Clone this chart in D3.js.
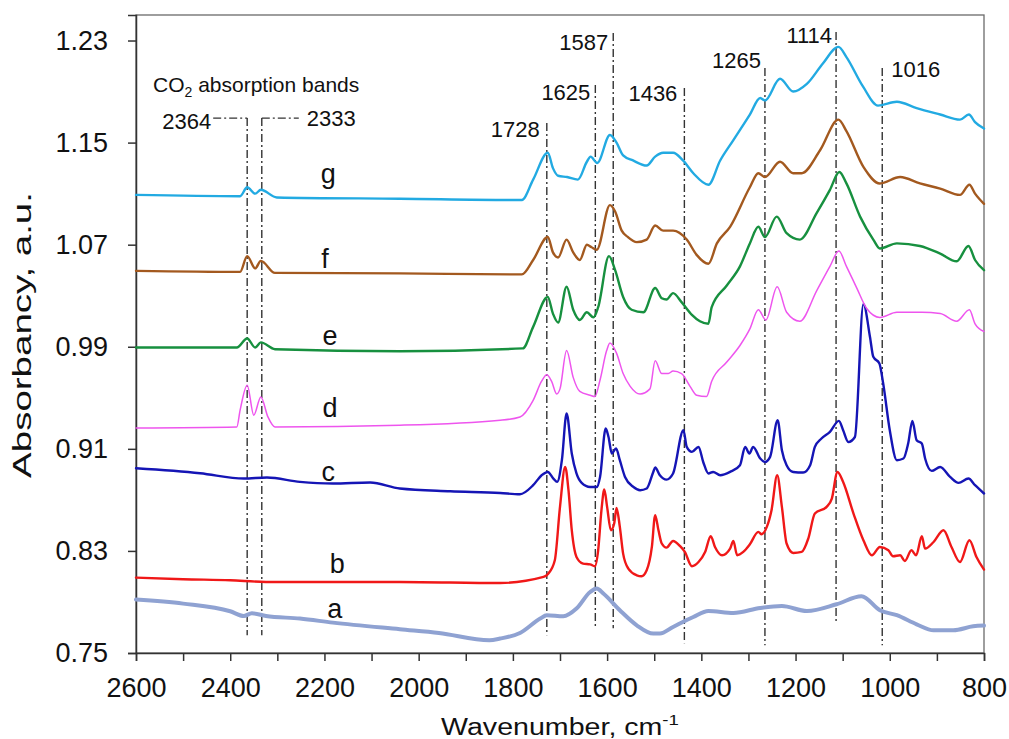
<!DOCTYPE html>
<html>
<head>
<meta charset="utf-8">
<script src="https://cdn.jsdelivr.net/npm/d3@7"></script>
<style>
  html, body { margin: 0; padding: 0; background: #ffffff; }
  svg { display: block; font-family: "Liberation Sans", Arial, sans-serif; }
</style>
</head>
<body>
<svg id="chart" width="1009" height="739"></svg>
<script>
// FTIR spectra a–g: wavenumber (cm-1) against absorbance (a.u.)
const spectrumA = [[2600,0.7919],[2500,0.7887],[2400,0.7827],[2371,0.7790],[2354,0.7811],[2324,0.7790],[2252,0.7770],[2182,0.7738],[2040,0.7686],[1957,0.7657],[1850,0.7600],[1827,0.7613],[1785,0.7657],[1742,0.7770],[1728,0.7796],[1693,0.7788],[1665,0.7848],[1636,0.7978],[1622,0.8005],[1608,0.7966],[1573,0.7835],[1537,0.7717],[1502,0.7652],[1488,0.7652],[1460,0.7704],[1417,0.7782],[1385,0.7829],[1332,0.7814],[1275,0.7853],[1229,0.7868],[1176,0.7829],[1113,0.7882],[1060,0.7945],[1021,0.7835],[985,0.7796],[943,0.7725],[907,0.7678],[865,0.7678],[823,0.7709],[800,0.7715]];

const spectrumB = [[2600,0.8091],[2500,0.8078],[2400,0.8070],[2324,0.8057],[2040,0.8057],[1827,0.8049],[1735,0.8096],[1725,0.8122],[1711,0.8227],[1700,0.8645],[1689,0.8958],[1682,0.8776],[1675,0.8462],[1665,0.8253],[1651,0.8201],[1636,0.8195],[1626,0.8180],[1619,0.8305],[1612,0.8619],[1606,0.8781],[1600,0.8645],[1592,0.8462],[1585,0.8515],[1580,0.8637],[1573,0.8488],[1566,0.8279],[1555,0.8162],[1537,0.8109],[1527,0.8101],[1516,0.8148],[1505,0.8331],[1498,0.8580],[1491,0.8462],[1484,0.8358],[1474,0.8326],[1460,0.8378],[1445,0.8337],[1435,0.8292],[1420,0.8180],[1406,0.8213],[1392,0.8292],[1380,0.8415],[1371,0.8331],[1356,0.8266],[1339,0.8318],[1332,0.8378],[1324,0.8266],[1311,0.8292],[1297,0.8352],[1279,0.8449],[1272,0.8431],[1261,0.8488],[1251,0.8619],[1239,0.8893],[1229,0.8645],[1219,0.8358],[1205,0.8284],[1187,0.8292],[1173,0.8397],[1159,0.8593],[1134,0.8645],[1123,0.8710],[1111,0.8919],[1099,0.8840],[1077,0.8593],[1056,0.8384],[1038,0.8266],[1021,0.8331],[1003,0.8305],[993,0.8258],[978,0.8266],[968,0.8221],[954,0.8305],[944,0.8266],[932,0.8415],[925,0.8318],[907,0.8370],[886,0.8462],[869,0.8331],[851,0.8213],[831,0.8384],[816,0.8253],[800,0.8154]];

const spectrumC = [[2600,0.8948],[2464,0.8909],[2371,0.8867],[2322,0.8875],[2252,0.8841],[2182,0.8828],[2103,0.8836],[2040,0.8789],[1933,0.8768],[1827,0.8754],[1785,0.8744],[1757,0.8815],[1739,0.8893],[1726,0.8919],[1714,0.8867],[1706,0.8841],[1696,0.9011],[1686,0.9377],[1675,0.9063],[1665,0.8907],[1654,0.8833],[1636,0.8801],[1622,0.8801],[1615,0.8880],[1603,0.9259],[1597,0.9193],[1590,0.9063],[1581,0.9103],[1573,0.9011],[1562,0.8880],[1544,0.8801],[1530,0.8776],[1516,0.8789],[1502,0.8919],[1498,0.8954],[1488,0.8893],[1474,0.8859],[1460,0.8907],[1438,0.9246],[1431,0.9115],[1420,0.9076],[1406,0.9115],[1396,0.8997],[1385,0.8907],[1375,0.8919],[1360,0.8893],[1339,0.8919],[1318,0.8972],[1307,0.9115],[1298,0.9063],[1290,0.9115],[1275,0.9024],[1265,0.8997],[1254,0.9037],[1238,0.9324],[1229,0.9089],[1219,0.8972],[1205,0.8919],[1184,0.8914],[1169,0.8972],[1159,0.9115],[1145,0.9181],[1127,0.9233],[1108,0.9319],[1099,0.9246],[1088,0.9154],[1074,0.9193],[1056,1.0234],[1042,0.9977],[1035,0.9821],[1022,0.9769],[1014,0.9612],[1000,0.9246],[985,0.9011],[971,0.9024],[961,0.9142],[952,0.9319],[943,0.9168],[932,0.9142],[925,0.9024],[911,0.8927],[893,0.8958],[872,0.8880],[854,0.8833],[833,0.8867],[819,0.8815],[800,0.8750]];

const spectrumD = [[2600,0.9264],[2386,0.9272],[2379,0.9403],[2364,0.9599],[2350,0.9364],[2335,0.9507],[2320,0.9350],[2305,0.9272],[2040,0.9285],[1827,0.9324],[1785,0.9350],[1757,0.9480],[1739,0.9630],[1728,0.9680],[1718,0.9630],[1707,0.9530],[1700,0.9570],[1686,0.9870],[1672,0.9660],[1658,0.9550],[1636,0.9520],[1626,0.9510],[1615,0.9640],[1601,0.9870],[1594,0.9930],[1580,0.9850],[1566,0.9690],[1551,0.9590],[1530,0.9530],[1509,0.9570],[1498,0.9790],[1484,0.9690],[1470,0.9690],[1460,0.9710],[1442,0.9690],[1424,0.9590],[1410,0.9520],[1389,0.9510],[1378,0.9630],[1346,0.9780],[1318,0.9910],[1297,1.0040],[1279,1.0190],[1263,1.0110],[1239,1.0370],[1219,1.0170],[1191,1.0100],[1155,1.0340],[1127,1.0530],[1108,1.0650],[1092,1.0530],[1070,1.0360],[1049,1.0200],[1021,1.0130],[985,1.0170],[932,1.0170],[893,1.0160],[858,1.0100],[831,1.0190],[819,1.0080],[800,1.0020]];

const spectrumE = [[2600,0.9894],[2386,0.9894],[2364,0.9965],[2347,0.9894],[2335,0.9934],[2305,0.9881],[2040,0.9865],[1779,0.9887],[1757,1.0056],[1726,1.0290],[1715,1.0160],[1704,1.0090],[1686,1.0370],[1672,1.0190],[1658,1.0110],[1643,1.0170],[1629,1.0130],[1619,1.0210],[1596,1.0610],[1583,1.0500],[1566,1.0290],[1548,1.0190],[1523,1.0170],[1498,1.0360],[1484,1.0280],[1474,1.0270],[1460,1.0320],[1442,1.0250],[1420,1.0150],[1403,1.0100],[1385,1.0080],[1378,1.0210],[1346,1.0380],[1318,1.0530],[1297,1.0710],[1279,1.0840],[1265,1.0760],[1240,1.0920],[1219,1.0790],[1191,1.0740],[1155,1.0950],[1127,1.1130],[1107,1.1270],[1092,1.1180],[1063,1.0920],[1035,1.0740],[1021,1.0670],[985,1.0710],[936,1.0690],[893,1.0630],[858,1.0570],[833,1.0690],[819,1.0580],[800,1.0500]];

const spectrumF = [[2600,1.0495],[2379,1.0487],[2364,1.0610],[2347,1.0514],[2335,1.0573],[2305,1.0479],[2040,1.0475],[1781,1.0467],[1757,1.0580],[1726,1.0760],[1715,1.0640],[1704,1.0600],[1686,1.0740],[1672,1.0640],[1658,1.0580],[1643,1.0700],[1633,1.0680],[1622,1.0660],[1594,1.1010],[1583,1.0960],[1569,1.0810],[1556,1.0760],[1537,1.0720],[1516,1.0740],[1498,1.0850],[1481,1.0810],[1460,1.0810],[1431,1.0740],[1410,1.0620],[1385,1.0550],[1367,1.0710],[1339,1.0840],[1297,1.1150],[1279,1.1260],[1265,1.1230],[1233,1.1350],[1205,1.1260],[1187,1.1260],[1148,1.1440],[1109,1.1680],[1092,1.1590],[1056,1.1310],[1021,1.1180],[978,1.1230],[936,1.1180],[893,1.1140],[851,1.1090],[831,1.1170],[819,1.1100],[800,1.1020]];

const spectrumG = [[2600,1.1090],[2379,1.1080],[2364,1.1150],[2347,1.1100],[2335,1.1130],[2301,1.1070],[2040,1.1060],[1781,1.1050],[1757,1.1210],[1726,1.1420],[1715,1.1300],[1704,1.1240],[1685,1.1230],[1662,1.1210],[1643,1.1350],[1635,1.1390],[1621,1.1340],[1594,1.1560],[1580,1.1500],[1566,1.1400],[1545,1.1360],[1516,1.1320],[1498,1.1390],[1481,1.1420],[1460,1.1420],[1439,1.1360],[1417,1.1260],[1385,1.1170],[1360,1.1360],[1332,1.1520],[1297,1.1720],[1275,1.1850],[1265,1.1830],[1233,1.2000],[1205,1.1900],[1176,1.1960],[1142,1.2120],[1109,1.2250],[1092,1.2170],[1057,1.1940],[1025,1.1790],[985,1.1820],[943,1.1770],[893,1.1720],[851,1.1680],[832,1.1720],[819,1.1660],[800,1.1610]];

// curve letters, with the point (wavenumber, absorbance) each one sits at
const seriesNames = ["a", "b", "c", "d", "e", "f", "g"];
const nameAnchors = [[2178,0.7772],[2173,0.8125],[2192,0.8846],[2188,0.9348],[2188,0.9912],[2199,1.0516],[2192,1.1182]];

// marked absorption bands (cm-1)
const co2Bands = [2364, 2333];
const sampleBands = [1728, 1625, 1587, 1436, 1265, 1114, 1016];

// axis ticks
const wavenumberTicks = d3.range(800, 2601, 100);
const wavenumberLabels = d3.range(800, 2601, 200);
const absorbanceTicks = [0.75, 0.83, 0.91, 0.99, 1.07, 1.15, 1.23];

// ---------------------------------------------------------------
const spectra = [spectrumA, spectrumB, spectrumC, spectrumD, spectrumE, spectrumF, spectrumG];
const colors = ["#8fa2d2", "#f01818", "#1515b5", "#ee55ee", "#17903f", "#a3591f", "#22aae2"];
const widths = [4, 2.4, 2.4, 1.5, 2.4, 2.4, 2.4];

const W = 1009, H = 739;
const margin = { top: 15, right: 25, bottom: 86, left: 136 };
const iw = W - margin.left - margin.right;
const ih = H - margin.top - margin.bottom;

const svg = d3.select("#chart");
const g = svg.append("g").attr("transform", `translate(${margin.left},${margin.top})`);

const x = d3.scaleLinear().domain([2600, 800]).range([0, iw]);
const y = d3.scaleLinear().domain([0.75, 1.25]).range([ih, 0]);

// frame
g.append("rect")
  .attr("x", 0).attr("y", 0).attr("width", iw).attr("height", ih)
  .attr("fill", "none").attr("stroke", "#6a6a6a").attr("stroke-width", 1.3);

// y axis
const yAxis = g.append("g")
  .call(d3.axisLeft(y).tickValues(absorbanceTicks).tickFormat(d3.format(".2f")).tickSize(8).tickPadding(20));
yAxis.select(".domain").attr("stroke", "#333").attr("stroke-width", 1.5);
yAxis.selectAll(".tick line").attr("stroke", "#333").attr("stroke-width", 1.5);
yAxis.selectAll(".tick text")
  .attr("font-size", 27).attr("fill", "#111").attr("font-family", "Liberation Sans, Arial, sans-serif");

// x axis
const xAxis = g.append("g").attr("transform", `translate(0,${ih})`)
  .call(d3.axisBottom(x).tickValues(wavenumberTicks)
    .tickFormat(d => wavenumberLabels.includes(d) ? d : "").tickSize(8).tickPadding(8));
xAxis.select(".domain").attr("stroke", "#333").attr("stroke-width", 1.5);
xAxis.selectAll(".tick line").attr("stroke", "#333").attr("stroke-width", 1.5);
xAxis.selectAll(".tick text")
  .attr("font-size", 27).attr("fill", "#111").attr("dy", 0).attr("y", 44)
  .attr("font-family", "Liberation Sans, Arial, sans-serif");

// band marker lines: extents in absorbance units
const bandLayout = {
  2364: { top: 1.1692, bottom: 0.7639 },
  2333: { top: 1.1692, bottom: 0.7639 },
  1728: { top: 1.1653, bottom: 0.7639, label: "end", dx: -7, base: 1.1542 },
  1625: { top: 1.1951, bottom: 0.7702, label: "end", dx: -5, base: 1.1832 },
  1587: { top: 1.2359, bottom: 0.7694, label: "end", dx: -5, base: 1.2224 },
  1436: { top: 1.1927, bottom: 0.7576, label: "end", dx: -7, base: 1.1824 },
  1265: { top: 1.2084, bottom: 0.7560, label: "end", dx: -4, base: 1.2088 },
  1114: { top: 1.2367, bottom: 0.7733, label: "end", dx: -4, base: 1.2284 },
  1016: { top: 1.2084, bottom: 0.7560, label: "start", dx: 9, base: 1.2013 }
};
const dash = "8,3,2,3";
const marks = g.append("g").attr("stroke", "#333").attr("stroke-width", 1.4)
  .attr("stroke-dasharray", dash).attr("fill", "none");

[...co2Bands, ...sampleBands].forEach(b => {
  const L = bandLayout[b];
  marks.append("line")
    .attr("x1", x(b)).attr("x2", x(b))
    .attr("y1", y(L.top)).attr("y2", y(L.bottom));
});

// CO2 connectors
marks.append("line").attr("x1", x(2364) - 34).attr("x2", x(2364))
  .attr("y1", y(1.1692)).attr("y2", y(1.1692));
marks.append("line").attr("x1", x(2333)).attr("x2", x(2333) + 37)
  .attr("y1", y(1.1692)).attr("y2", y(1.1692));

const labels = g.append("g").attr("fill", "#111").attr("font-size", 22);
labels.append("text").attr("x", x(2364) - 36).attr("y", y(1.1692) + 11)
  .attr("text-anchor", "end").text("2364");
labels.append("text").attr("x", x(2333) + 45).attr("y", y(1.1692) + 8)
  .attr("text-anchor", "start").text("2333");

sampleBands.forEach(b => {
  const L = bandLayout[b];
  labels.append("text")
    .attr("x", x(b) + L.dx).attr("y", y(L.base))
    .attr("text-anchor", L.label).text(b);
});

// CO2 caption
const co2 = labels.append("text").attr("x", 153 - margin.left).attr("y", 92 - margin.top).attr("font-size", 21);
co2.append("tspan").text("CO");
co2.append("tspan").attr("font-size", 14).attr("dy", 5).text("2");
co2.append("tspan").attr("dy", -5).text(" absorption bands");

// spectra
const line = d3.line().x(d => x(d[0])).y(d => y(d[1])).curve(d3.curveMonotoneX);
spectra.forEach((s, i) => {
  g.append("path").datum(s)
    .attr("fill", "none").attr("stroke", colors[i]).attr("stroke-width", widths[i])
    .attr("stroke-linejoin", "round").attr("stroke-linecap", "round")
    .attr("d", line);
});

// curve letters
g.append("g").attr("font-size", 27).attr("fill", "#111").attr("text-anchor", "middle")
  .selectAll("text").data(seriesNames).join("text")
  .attr("x", (d, i) => x(nameAnchors[i][0]))
  .attr("y", (d, i) => y(nameAnchors[i][1]))
  .text(d => d);

// axis titles
const xt = svg.append("text").attr("font-size", 23).attr("fill", "#111").attr("text-anchor", "middle");
xt.append("tspan").text("Wavenumber, cm");
xt.append("tspan").attr("font-size", 15).attr("dy", -10).text("-1");
const xtw = xt.node().getComputedTextLength();
xt.attr("transform", `translate(560,735) scale(${238 / xtw},1)`);

const yt = svg.append("text").attr("font-size", 25).attr("fill", "#111").attr("text-anchor", "middle")
  .text("Absorbancy, a.u.");
const ytw = yt.node().getComputedTextLength();
yt.attr("transform", `translate(31,335) rotate(-90) scale(${286 / ytw},1)`);
</script>
</body>
</html>
